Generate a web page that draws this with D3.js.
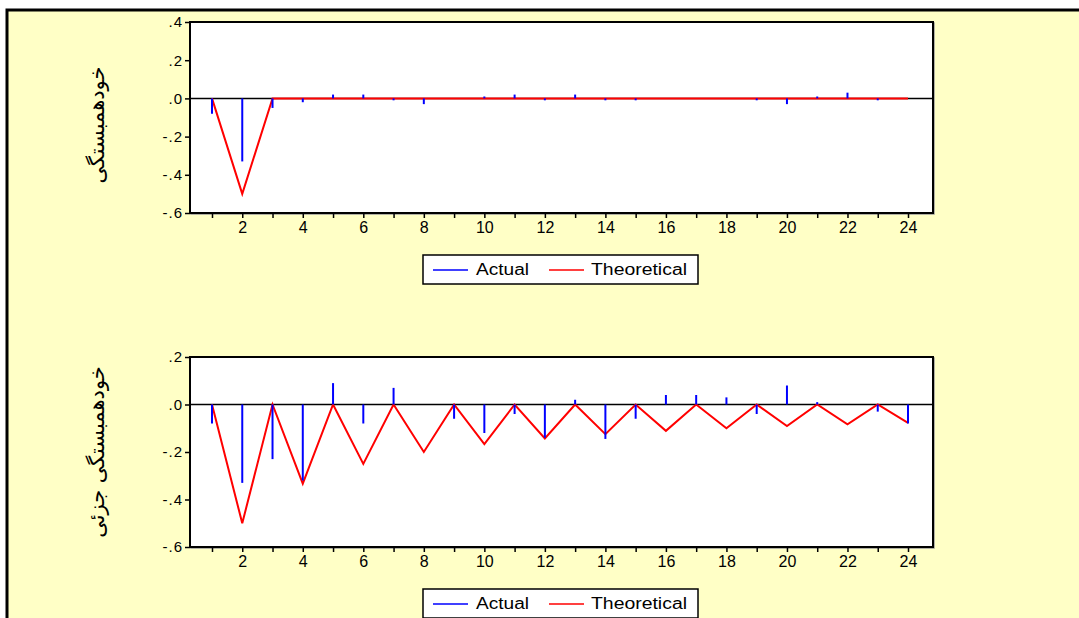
<!DOCTYPE html>
<html><head><meta charset="utf-8">
<script src="https://cdn.jsdelivr.net/npm/d3@7"></script>
<style>html,body{margin:0;padding:0;background:#fff;}</style>
</head><body>
<svg id="c" width="1079" height="618"></svg>
<script>
const lags = d3.range(1, 25);
const acfActual = [-0.08,-0.33,-0.05,-0.02,0.02,0.02,-0.01,-0.03,0.00,0.01,0.02,-0.01,0.02,-0.01,-0.01,0.00,0.00,0.00,-0.01,-0.03,0.01,0.03,-0.01,0.00];
const acfTheoretical = [0,-0.5,0,0,0,0,0,0,0,0,0,0,0,0,0,0,0,0,0,0,0,0,0,0];
const pacfActual = [-0.08,-0.33,-0.23,-0.32,0.09,-0.08,0.07,0.00,-0.06,-0.12,-0.04,-0.14,0.02,-0.145,-0.06,0.04,0.04,0.03,-0.04,0.08,0.01,0.00,-0.03,-0.08];
const pacfTheoretical = [0,-0.5,0,-0.333,0,-0.25,0,-0.2,0,-0.167,0,-0.143,0,-0.125,0,-0.111,0,-0.1,0,-0.091,0,-0.083,0,-0.077];
const acfTicks = [0.4,0.2,0,-0.2,-0.4,-0.6];
const pacfTicks = [0.2,0,-0.2,-0.4,-0.6];
const xTickLabels = [2,4,6,8,10,12,14,16,18,20,22,24];
const titleAcf = "خودهمبستگی";
const titlePacf = "خودهمبستگی جزئی";
const legendLabels = ["Actual","Theoretical"];

const svg = d3.select("#c");
svg.append("rect").attr("x",7).attr("y",10).attr("width",1072).attr("height",608).attr("fill","#FFFFC6");
svg.append("path").attr("d","M7,618 V10 H1079").attr("fill","none").attr("stroke","#000").attr("stroke-width",3);

const fmt = v => { if (Math.abs(v) < 1e-9) return ".0"; const s = v.toFixed(1); return s.replace("0.", "."); };
const tickFont = "Liberation Sans, Arial, sans-serif";

function panel(top, bottom, domain, ticks, actual, theo, title, legendY, titleSize, cy) {
  const left = 190, right = 933;
  const x = d3.scaleLinear().domain([1, 24]).range([212, 908]);
  const y = d3.scaleLinear().domain(domain).range([bottom, top]);
  const g = svg.append("g");
  g.append("rect").attr("x",left+1).attr("y",top+1).attr("width",right-left).attr("height",bottom-top).attr("fill","none").attr("stroke","#999").attr("stroke-width",1.5);
  g.append("rect").attr("x",left).attr("y",top).attr("width",right-left).attr("height",bottom-top).attr("fill","#fff").attr("stroke","#000").attr("stroke-width",2);
  const ya = d3.axisLeft(y).tickValues(ticks).tickSize(5).tickFormat(fmt);
  const yg = g.append("g").attr("transform",`translate(${left},0)`).call(ya);
  yg.attr("font-size",null).attr("font-family",null);
  yg.select(".domain").remove();
  yg.selectAll("line").attr("stroke","#000").attr("stroke-width",1.5);
  yg.selectAll("text").style("font-family",tickFont).style("font-size","15px").style("letter-spacing","1px").attr("fill","#000").attr("x",-7);
  const xa = d3.axisBottom(x).tickValues(lags).tickSize(5).tickFormat(d => xTickLabels.includes(d) ? d : "");
  const xg = g.append("g").attr("transform",`translate(0,${bottom})`).call(xa);
  xg.attr("font-size",null).attr("font-family",null);
  xg.select(".domain").remove();
  xg.selectAll("line").attr("stroke","#000").attr("stroke-width",1.5);
  xg.selectAll("text").style("font-family",tickFont).style("font-size","16px").attr("fill","#000").attr("y",9);
  g.append("line").attr("x1",left).attr("x2",right).attr("y1",y(0)).attr("y2",y(0)).attr("stroke","#000").attr("stroke-width",1.5);
  g.append("path").datum(theo).attr("d", d3.line().x((d,i)=>x(lags[i])).y(d=>y(d)))
    .attr("fill","none").attr("stroke","#FF0000").attr("stroke-width",2);
  g.selectAll(".stem").data(actual).join("line").attr("class","stem")
    .attr("x1",(d,i)=>x(lags[i])).attr("x2",(d,i)=>x(lags[i]))
    .attr("y1",y(0)).attr("y2",d=>y(d)).attr("stroke","#0000FF").attr("stroke-width",2);
  g.append("text").attr("transform",`translate(104,${cy}) rotate(-90)`).attr("text-anchor","middle")
    .style("font-family","DejaVu Sans, Noto Sans, sans-serif").style("font-size",titleSize+"px").attr("direction","rtl").text(title);
  const lg = g.append("g").attr("transform",`translate(423,${legendY})`);
  lg.append("rect").attr("x",0).attr("y",0).attr("width",275).attr("height",29).attr("fill","#fff").attr("stroke","#000").attr("stroke-width",1.5);
  lg.append("line").attr("x1",10).attr("x2",45).attr("y1",15).attr("y2",15).attr("stroke","#0000FF").attr("stroke-width",1.5);
  lg.append("text").attr("x",53).attr("y",20).attr("textLength",53).attr("lengthAdjust","spacingAndGlyphs")
    .style("font-family",tickFont).style("font-size","16px").text(legendLabels[0]);
  lg.append("line").attr("x1",126).attr("x2",161).attr("y1",15).attr("y2",15).attr("stroke","#FF0000").attr("stroke-width",1.5);
  lg.append("text").attr("x",168).attr("y",20).attr("textLength",96).attr("lengthAdjust","spacingAndGlyphs")
    .style("font-family",tickFont).style("font-size","16px").text(legendLabels[1]);
}
panel(22, 213, [-0.6, 0.4], acfTicks, acfActual, acfTheoretical, titleAcf, 255, 21, 125);
panel(357, 547, [-0.6, 0.2], pacfTicks, pacfActual, pacfTheoretical, titlePacf, 589, 21, 452);
</script>
</body></html>
